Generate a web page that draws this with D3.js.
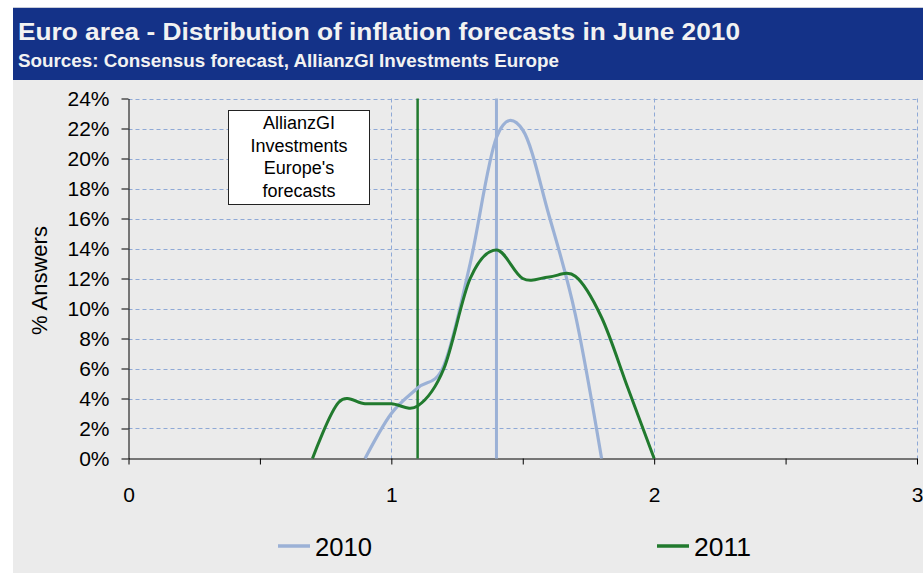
<!DOCTYPE html>
<html>
<head>
<meta charset="utf-8">
<script src="https://cdn.jsdelivr.net/npm/d3@7"></script>
<style>
  html, body { margin: 0; padding: 0; background: #ffffff; }
  svg { display: block; font-family: "Liberation Sans", Arial, sans-serif; }
</style>
</head>
<body>
<svg id="chart" width="923" height="573"></svg>
<script>
// ---- Data ----
const titleText = "Euro area - Distribution of inflation forecasts in June 2010";
const subtitleText = "Sources: Consensus forecast, AllianzGI Investments Europe";
const yAxisLabel = "% Answers";

const x2010 = [0.9, 1.0, 1.1, 1.2, 1.3, 1.4, 1.5, 1.6, 1.7, 1.8];
const y2010 = [0, 3.0, 4.7, 6.2, 13.0, 21.4, 21.9, 16.2, 9.6, 0];

const x2011 = [0.7, 0.8, 0.9, 1.0, 1.1, 1.2, 1.3, 1.4, 1.5, 1.6, 1.7, 1.8, 1.9, 2.0];
const y2011 = [0, 3.75, 3.65, 3.65, 3.5, 6.0, 12.0, 13.9, 12.0, 12.1, 12.15, 9.4, 4.7, 0];

const forecast2010 = 1.4;   // AllianzGI forecast 2010
const forecast2011 = 1.1;   // AllianzGI forecast 2011

const xTicks = [0, 0.5, 1, 1.5, 2, 2.5, 3];
const xTickLabels = ["0", "", "1", "", "2", "", "3"];
const yTicks = [0, 2, 4, 6, 8, 10, 12, 14, 16, 18, 20, 22, 24];
const xGrid = [1, 2, 3];
const seriesNames = ["2010", "2011"];
const boxLines = ["AllianzGI", "Investments", "Europe's", "forecasts"];

// ---- Styles ----
const col2010 = "#9bb1d6";
const col2011 = "#217a2e";
const gridCol = "#8fa9d6";

const svg = d3.select("#chart");

// background panel
svg.append("rect").attr("x", 13).attr("y", 8).attr("width", 910).attr("height", 565).attr("fill", "#ebebeb");
// title banner
svg.append("line").attr("x1", 13).attr("x2", 923).attr("y1", 7.5).attr("y2", 7.5).attr("stroke", "#c8ccd8");
svg.append("rect").attr("x", 13).attr("y", 8).attr("width", 910).attr("height", 72).attr("fill", "#143288");
svg.append("text").attr("x", 18).attr("y", 40).attr("fill", "#f2f2f2")
  .attr("font-size", 23).attr("font-weight", "bold")
  .attr("textLength", 722).attr("lengthAdjust", "spacingAndGlyphs").text(titleText);
svg.append("text").attr("x", 18).attr("y", 66.5).attr("fill", "#f2f2f2")
  .attr("font-size", 18).attr("font-weight", "bold")
  .attr("textLength", 541).attr("lengthAdjust", "spacingAndGlyphs").text(subtitleText);

// scales
const x = d3.scaleLinear().domain([0, 3]).range([128.5, 917]);
const y = d3.scaleLinear().domain([0, 24]).range([458.5, 98.5]);

// grid
const g = svg.append("g");
g.selectAll("line.hg").data(yTicks.filter(d => d > 0)).join("line")
  .attr("x1", x(0)).attr("x2", x(3))
  .attr("y1", d => Math.round(y(d)) + 0.5).attr("y2", d => Math.round(y(d)) + 0.5)
  .attr("stroke", gridCol).attr("stroke-width", 1).attr("stroke-dasharray", "4,3");
g.selectAll("line.vg").data(xGrid).join("line")
  .attr("x1", d => Math.round(x(d)) + 0.5).attr("x2", d => Math.round(x(d)) + 0.5)
  .attr("y1", y(24)).attr("y2", y(0))
  .attr("stroke", gridCol).attr("stroke-width", 1).attr("stroke-dasharray", "4,3");

// axes
const yAxis = d3.axisLeft(y).tickValues(yTicks).tickFormat(d => d + "%").tickSize(7).tickSizeOuter(0).tickPadding(12);
const ya = svg.append("g").attr("transform", `translate(${x(0)},0)`).call(yAxis);
ya.selectAll("text").attr("font-size", 21).attr("fill", "#000").attr("font-family", "Liberation Sans, Arial, sans-serif");
ya.selectAll("line, path").attr("stroke", "#000");

const xAxis = d3.axisBottom(x).tickValues(xTicks).tickFormat((d, i) => xTickLabels[i]).tickSize(6).tickSizeOuter(0).tickPadding(23);
const xa = svg.append("g").attr("transform", `translate(0,${y(0)})`).call(xAxis);
xa.selectAll("text").attr("font-size", 21).attr("fill", "#000").attr("font-family", "Liberation Sans, Arial, sans-serif");
xa.selectAll("line, path").attr("stroke", "#000");

// y label
svg.append("text").attr("transform", `translate(47,${(y(0) + y(24)) / 2 + 2}) rotate(-90)`)
  .attr("text-anchor", "middle").attr("font-size", 22).attr("fill", "#000").text(yAxisLabel);

// forecast vertical lines
svg.append("line").attr("x1", x(forecast2010)).attr("x2", x(forecast2010))
  .attr("y1", y(24)).attr("y2", y(0)).attr("stroke", col2010).attr("stroke-width", 3);
svg.append("line").attr("x1", x(forecast2011)).attr("x2", x(forecast2011))
  .attr("y1", y(24)).attr("y2", y(0)).attr("stroke", col2011).attr("stroke-width", 2.5);

// series lines
const line = d3.line().x(d => x(d[0])).y(d => y(d[1])).curve(d3.curveCardinal.tension(0));
svg.append("path").datum(x2010.map((v, i) => [v, y2010[i]]))
  .attr("d", line).attr("fill", "none").attr("stroke", col2010).attr("stroke-width", 3.2);
svg.append("path").datum(x2011.map((v, i) => [v, y2011[i]]))
  .attr("d", line).attr("fill", "none").attr("stroke", col2011).attr("stroke-width", 3);

// annotation box
svg.append("rect").attr("x", 228.5).attr("y", 110.5).attr("width", 141).attr("height", 94)
  .attr("fill", "#ffffff").attr("stroke", "#222").attr("stroke-width", 1);
svg.append("g").selectAll("text").data(boxLines).join("text")
  .attr("x", 299).attr("y", (d, i) => 129 + i * 22.6)
  .attr("text-anchor", "middle").attr("font-size", 18).attr("fill", "#000").text(d => d);

// legend
const legendX = [278, 657];
const leg = svg.append("g").selectAll("g").data(seriesNames).join("g")
  .attr("transform", (d, i) => `translate(${legendX[i]},546)`);
leg.append("line").attr("x1", 0).attr("x2", 32).attr("y1", 0).attr("y2", 0)
  .attr("stroke", (d, i) => i === 0 ? col2010 : col2011).attr("stroke-width", 3.5);
leg.append("text").attr("x", 37).attr("y", 10).attr("font-size", 26).attr("fill", "#000")
  .attr("textLength", 57).attr("lengthAdjust", "spacingAndGlyphs").text(d => d);
</script>
</body>
</html>
